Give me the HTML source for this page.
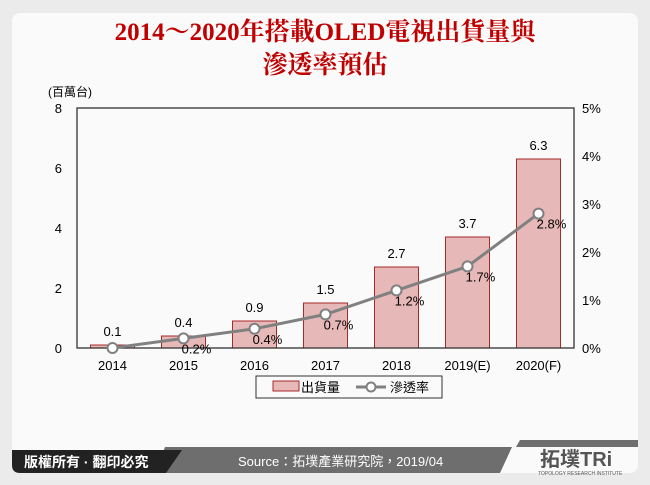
<!DOCTYPE html>
<html><head><meta charset="utf-8"><style>
body{margin:0;background:#ebebeb;width:650px;height:485px;overflow:hidden;font-family:"Liberation Sans","Noto Sans CJK TC",sans-serif}
#card{position:absolute;left:12px;top:13px;width:626px;height:460px;background:#fafafa;border-radius:8px;overflow:hidden}
.t{position:absolute;left:0;width:650px;text-align:center;color:#c00000;font-family:"Liberation Serif","Noto Serif CJK SC",serif;font-weight:bold;font-size:25px}
</style></head><body>
<div id="card"></div>
<div class="t" style="top:12px">2014～2020年搭載OLED電視出貨量與</div>
<div class="t" style="top:45px">滲透率預估</div>
<svg id="chart" width="650" height="485" style="position:absolute;left:0;top:0"></svg>
<script>
const categories=["2014","2015","2016","2017","2018","2019(E)","2020(F)"];
const shipments=[0.1,0.4,0.9,1.5,2.7,3.7,6.3];
const penetration=[0,0.2,0.4,0.7,1.2,1.7,2.8];
const leftTicks=[0,2,4,6,8];
const rightTicks=[0,1,2,3,4,5];
const NS="http://www.w3.org/2000/svg";
const svg=document.getElementById('chart');
const L=77,R=574,T=108,B=348;
const bw=(R-L)/categories.length;
const xC=i=>L+bw*(i+0.5);
const yL=v=>B-(v/8)*(B-T);
const yR=v=>B-(v/5)*(B-T);
function mk(tag,a,txt){const e=document.createElementNS(NS,tag);for(const k in a)e.setAttribute(k,a[k]);if(txt!=null)e.textContent=txt;svg.appendChild(e);return e;}
let e;
e=mk('text',{x:48,y:96,'font-size':12,fill:'#000'},'(百萬台)');

leftTicks.forEach(v=>{e=mk('text',{x:62,y:yL(v)+5,'font-size':13,'text-anchor':'end'},v);
});
rightTicks.forEach(v=>{e=mk('text',{x:582,y:yR(v)+5,'font-size':13},v+'%');
});
shipments.forEach((v,i)=>{
e=mk('rect',{x:xC(i)-22,y:yL(v),width:44,height:B-yL(v),fill:'#e6b8b7',stroke:'#a52a2a','stroke-width':1});

e=mk('text',{x:xC(i),y:yL(v)-9,'font-size':13,'text-anchor':'middle'},v.toFixed(1));

e=mk('text',{x:xC(i),y:B+22,'font-size':13,'text-anchor':'middle'},categories[i]);

});
e=mk('rect',{x:L,y:T,width:R-L,height:B-T,fill:'none',stroke:'#333','stroke-width':1.3});

e=mk('polyline',{points:penetration.map((v,i)=>xC(i)+','+yR(v)).join(' '),fill:'none',stroke:'#808080','stroke-width':3});

penetration.forEach((v,i)=>{
e=mk('circle',{cx:xC(i),cy:yR(v),r:5,fill:'#fff',stroke:'#808080','stroke-width':2});

if(i>0){e=mk('text',{x:xC(i)+13,y:yR(v)+15,'font-size':13,'text-anchor':'middle'},v.toFixed(1)+'%');
}
});
e=mk('rect',{x:256,y:376,width:186,height:22,fill:'none',stroke:'#333'});

e=mk('rect',{x:273,y:381,width:26,height:10,fill:'#e6b8b7',stroke:'#a52a2a'});

e=mk('text',{x:301,y:392,'font-size':13},'出貨量');

e=mk('line',{x1:356,y1:387,x2:386,y2:387,stroke:'#808080','stroke-width':3});

e=mk('circle',{cx:371,cy:387,r:4.5,fill:'#fff',stroke:'#808080','stroke-width':2});
e=mk('text',{x:390,y:392,'font-size':13},'滲透率');

e=mk('polygon',{points:'165,447 512,447 500,473 155,473',fill:'#6e6e6e'});

e=mk('polygon',{points:'520,440 638,440 638,447 516,447',fill:'#6e6e6e'});
e=mk('path',{d:'M12,450 H182 L166,473 H20 Q12,473 12,465 Z',fill:'#222'});

e=mk('text',{x:24,y:467,'font-size':14,fill:'#fff','font-weight':'bold'},'版權所有 · 翻印必究');

e=mk('text',{x:238,y:466,'font-size':13,fill:'#fff'},'Source：拓墣產業研究院，2019/04');

e=mk('text',{x:540,y:466,'font-size':20,fill:'#555','font-weight':'bold'},'拓墣TRi');

e=mk('text',{x:538,y:475,'font-size':5,fill:'#555'},'TOPOLOGY RESEARCH INSTITUTE');
</script>
</body></html>
